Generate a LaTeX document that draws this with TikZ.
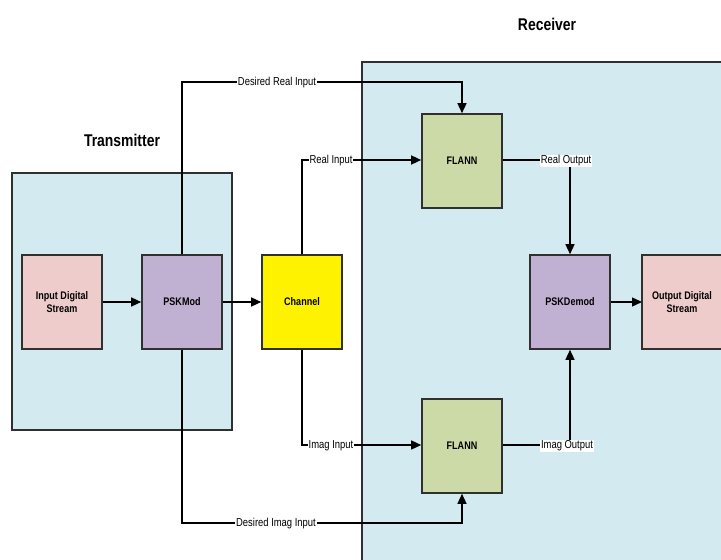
\documentclass[tikz,border=0pt]{standalone}
\usepackage{fontspec}
\setmainfont{Liberation Sans}[FakeStretch=0.82]
\usetikzlibrary{arrows.meta}
\definecolor{regionblue}{HTML}{D3EBF0}
\definecolor{pinkfill}{HTML}{EDCCCB}
\definecolor{purplefill}{HTML}{C0B1D2}
\definecolor{greenfill}{HTML}{CCDAA8}
\definecolor{edgegray}{HTML}{303030}
\tikzset{
  region/.style={draw=edgegray, line width=1.6pt, fill=regionblue},
  block/.style={draw=edgegray, line width=1.6pt, minimum width=80pt, minimum height=94pt, inner sep=0pt, align=center, font=\fontsize{11}{13}\selectfont\bfseries},
  conn/.style={line width=1.4pt, draw=black},
  arr/.style={conn, -{Triangle[length=10pt,width=9pt]}},
  lbl/.style={fill=white, inner sep=1pt, yshift=-1pt, font=\fontsize{11.5}{13}\selectfont},
  title/.style={font=\fontsize{17}{19}\selectfont\bfseries}
}
\begin{document}
\begin{tikzpicture}[x=1pt,y=-1pt]
\useasboundingbox (0,0) rectangle (721,560);
\clip (0,0) rectangle (721,560);
% regions
\path[region] (12,173) rectangle (232,430);
\path[region] (362,62) rectangle (740,580);
\node[title] (ttx) at (122,140) {Transmitter};
\node[title] (trx) at (547,24) {Receiver};
% blocks
\node[block, fill=pinkfill] (inp) at (62,302) {Input Digital\\Stream};
\node[block, fill=purplefill] (mod) at (182,302) {PSKMod};
\node[block, fill=yellow] (chan) at (302,302) {Channel};
\node[block, fill=greenfill] (f1) at (462,161) {FLANN};
\node[block, fill=greenfill] (f2) at (462,446) {FLANN};
\node[block, fill=purplefill] (dem) at (570,302) {PSKDemod};
\path[draw=edgegray, line width=1.6pt, fill=pinkfill] (730,255) -- (642,255) -- (642,349) -- (730,349);
\node[font=\fontsize{11}{13}\selectfont\bfseries, align=center] (outp) at (682,302) {Output Digital\\Stream};
\coordinate (outw) at (642,302);
% connectors
\coordinate (c1) at (182,82);
\coordinate (c2) at (462,82);
\draw[arr] (mod.north) -- (c1) -- (c2) -- (f1.north);
\node[lbl] (l1) at (277,82) {Desired Real Input};
\coordinate (c3) at (182,523);
\coordinate (c4) at (462,523);
\draw[arr] (mod.south) -- (c3) -- (c4) -- (f2.south);
\node[lbl] (l2) at (276,523) {Desired Imag Input};
\coordinate (c5) at (302,160);
\draw[arr] (chan.north) -- (c5) -- (f1.west |- c5);
\node[lbl] (l3) at (331,160) {Real Input};
\coordinate (c6) at (302,445);
\draw[arr] (chan.south) -- (c6) -- (f2.west |- c6);
\node[lbl] (l4) at (331,445) {Imag Input};
\coordinate (c7) at (570,160);
\draw[arr] (f1.east |- c7) -- (c7) -- (dem.north);
\node[lbl] (l5) at (566,160) {Real Output};
\coordinate (c8) at (570,445);
\draw[arr] (f2.east |- c8) -- (c8) -- (dem.south);
\node[lbl] (l6) at (567,445) {Imag Output};
\draw[arr] (inp) -- (mod);
\draw[arr] (mod) -- (chan);
\draw[arr] (dem) -- (outw);
\end{tikzpicture}
\end{document}
